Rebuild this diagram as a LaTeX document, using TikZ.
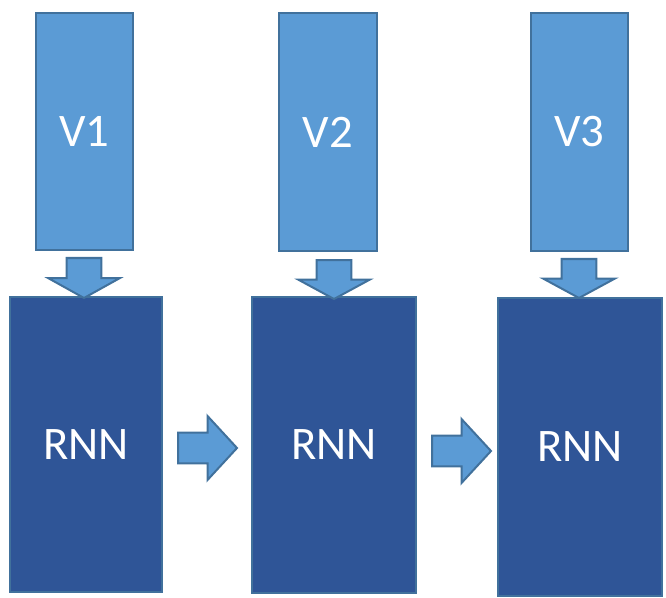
\documentclass[tikz,border=0pt]{standalone}
\usepackage{fontspec}
\setmainfont{Carlito}
\usetikzlibrary{calc}
\definecolor{lightfill}{HTML}{5B9BD5}
\definecolor{darkfill}{HTML}{2F5597}
\definecolor{edge}{HTML}{41719C}
\tikzset{
  inbox/.style={draw=edge, fill=lightfill, line width=1.5pt, text=white,
    font=\fontsize{35}{40}\selectfont, inner sep=0pt},
  rnnbox/.style={draw=edge, fill=darkfill, line width=1.5pt, text=white,
    font=\fontsize{35}{40}\selectfont, inner sep=0pt},
  fat/.style={draw=edge, fill=lightfill, line width=1.5pt, line join=miter}
}
% block arrow: #1 tail, #2 tip, #3 shaft half width, #4 head half width
\newcommand\blockarrow[4]{%
  \coordinate (#1-base) at ($(#1)!0.5!(#2)$);
  \draw[fat] ($(#1)!#3!90:(#2)$) -- ($(#1-base)!#3!90:(#2)$)
    -- ($(#1-base)!#4!90:(#2)$) -- (#2)
    -- ($(#1-base)!#4!-90:(#2)$) -- ($(#1-base)!#3!-90:(#2)$)
    -- ($(#1)!#3!-90:(#2)$) -- cycle;
}
\begin{document}
\begin{tikzpicture}[x=0.75pt, y=-0.75pt]
  \useasboundingbox (0,0) rectangle (666,598);

  % input boxes
  \node[inbox, minimum width=72.75pt, minimum height=177.75pt] (v1) at (84.5,131.5) {V1};
  \node[inbox, minimum width=73.5pt,  minimum height=178.5pt]  (v2) at (328,132)   {V2};
  \node[inbox, minimum width=72.75pt, minimum height=178.5pt]  (v3) at (579.5,132) {V3};

  % recurrent cells
  \node[rnnbox, minimum width=114pt, minimum height=221.25pt] (r1) at (86,444.5) {RNN};
  \node[rnnbox, minimum width=123pt, minimum height=222pt]    (r2) at (334,445)  {RNN};
  \node[rnnbox, minimum width=123pt, minimum height=223.5pt]  (r3) at (580,447)  {RNN};

  % arrow end points
  \coordinate (d1) at (84,258);  \coordinate (d1t) at (84,298);
  \coordinate (d2) at (334,260); \coordinate (d2t) at (334,299);
  \coordinate (d3) at (579,259); \coordinate (d3t) at (579,298);
  \coordinate (h1) at (178,448); \coordinate (h1t) at (237,448);
  \coordinate (h2) at (432,451); \coordinate (h2t) at (491,451);

  % input to cell
  \blockarrow{d1}{d1t}{13.1pt}{27pt}
  \blockarrow{d2}{d2t}{13.1pt}{27pt}
  \blockarrow{d3}{d3t}{13.1pt}{27pt}

  % cell to cell
  \blockarrow{h1}{h1t}{11.6pt}{24pt}
  \blockarrow{h2}{h2t}{11.6pt}{24pt}
\end{tikzpicture}
\end{document}
